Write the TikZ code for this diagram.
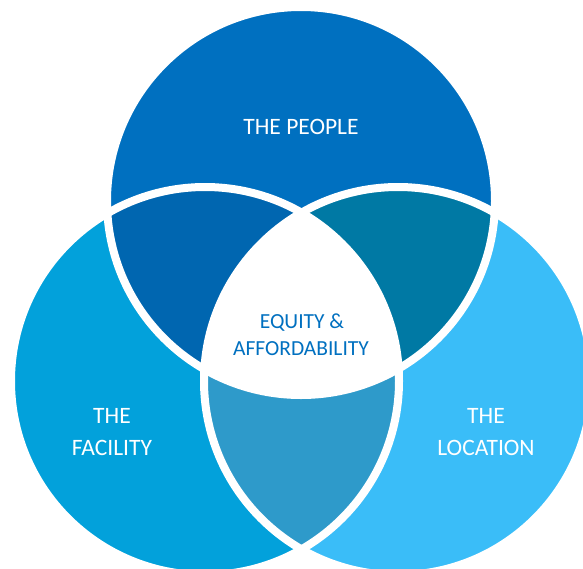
\documentclass[tikz,border=0pt]{standalone}
\usepackage{fontspec}
\setmainfont{Carlito}
\definecolor{cTop}{RGB}{0,112,192}
\definecolor{cLeft}{RGB}{2,161,219}
\definecolor{cRight}{RGB}{58,189,248}
\definecolor{cTL}{RGB}{0,102,176}
\definecolor{cTR}{RGB}{0,121,164}
\definecolor{cLR}{RGB}{46,154,202}
\definecolor{cText}{RGB}{0,112,192}
\tikzset{
  ring/.style={draw=white, line width=8pt},
  biglabel/.style={text=white, font=\fontsize{23.5}{32}\selectfont, anchor=base, inner sep=0pt},
  midlabel/.style={text=cText, font=\fontsize{21.5}{27}\selectfont, anchor=base, inner sep=0pt}
}
\begin{document}
\begin{tikzpicture}[x=1pt,y=-1pt]
\useasboundingbox (0,0) rectangle (583,568);
\clip (0,0) rectangle (583,568);
\coordinate (T) at (301,201);
\coordinate (L) at (205,381);
\coordinate (R) at (398,381);
\fill[cTop] (T) circle (194pt);
\fill[cLeft] (L) circle (194pt);
\fill[cRight] (R) circle (194pt);
\begin{scope}
  \clip (T) circle (194pt);
  \fill[cTL] (L) circle (194pt);
  \fill[cTR] (R) circle (194pt);
\end{scope}
\begin{scope}
  \clip (L) circle (194pt);
  \fill[cLR] (R) circle (194pt);
\end{scope}
\begin{scope}
  \clip (T) circle (194pt);
  \clip (L) circle (194pt);
  \fill[white] (R) circle (194pt);
\end{scope}
\draw[ring] (T) circle (194pt);
\draw[ring] (L) circle (194pt);
\draw[ring] (R) circle (194pt);
\node[biglabel] (people) at (301,134) {THE PEOPLE};
\node[midlabel] (equity1) at (302,328) {EQUITY \&};
\node[midlabel] (equity2) at (301,355) {AFFORDABILITY};
\node[biglabel] (facility1) at (112,423) {THE};
\node[biglabel] (facility2) at (112,455) {FACILITY};
\node[biglabel] (location1) at (486,423) {THE};
\node[biglabel] (location2) at (486,455) {LOCATION};
\end{tikzpicture}
\end{document}
